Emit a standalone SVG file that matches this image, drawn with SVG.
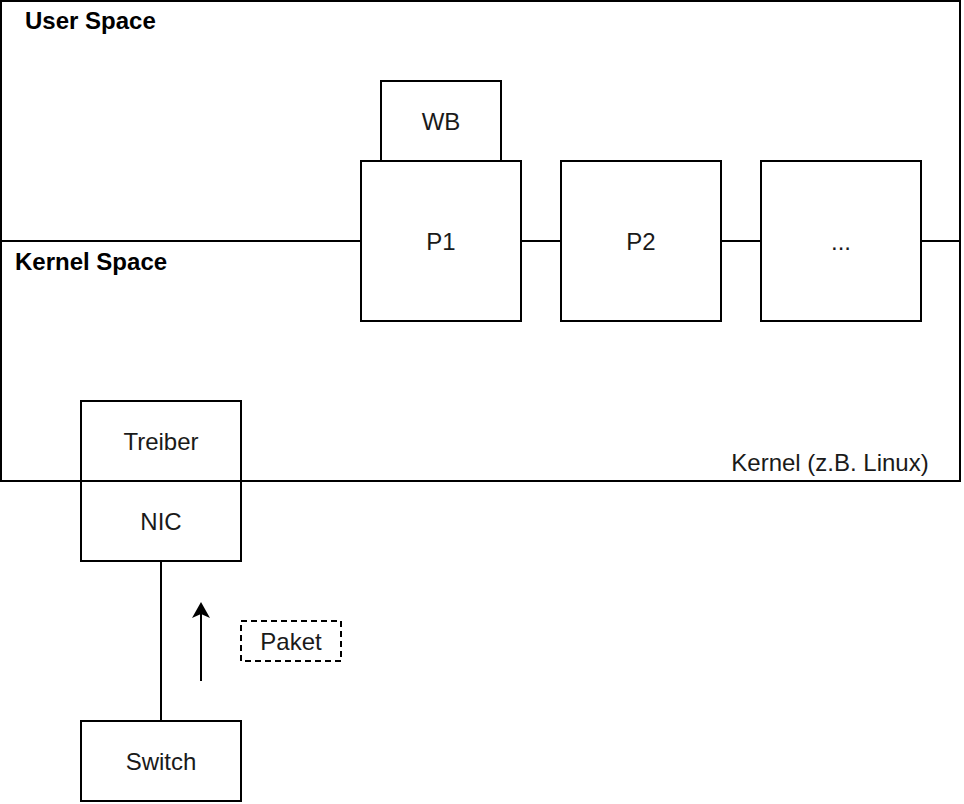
<svg xmlns="http://www.w3.org/2000/svg" width="964" height="804" viewBox="0 0 964 804">
<style>
.box{fill:#fff;stroke:#000;stroke-width:2}
.ln{fill:none;stroke:#000;stroke-width:2}
.t{font-family:"Liberation Sans",Arial,sans-serif;font-size:24px;fill:#1a1a1a;text-anchor:middle;dominant-baseline:central}
.b{font-family:"Liberation Sans",Arial,sans-serif;font-size:24px;font-weight:bold;fill:#000}
</style>
<defs>
<marker id="ah" viewBox="0 0 16 18" refX="6" refY="9" markerWidth="16" markerHeight="18" markerUnits="userSpaceOnUse" orient="auto">
<path d="M0,0 L16,9 L0,18 L4,9 Z" fill="#000"/>
</marker>
</defs>
<rect width="964" height="804" fill="#fff"/>
<g id="kernel">
<rect class="box" x="1" y="1" width="959" height="480"/>
<text class="b" x="25" y="29">User Space</text>
<text class="b" x="15" y="270">Kernel Space</text>
<text class="t" x="830" y="462">Kernel (z.B. Linux)</text>
</g>
<g id="connectors">
<line class="ln" x1="1" y1="241" x2="960" y2="241"/>
<line class="ln" x1="161" y1="561" x2="161" y2="721"/>
<line class="ln" x1="201" y1="681" x2="201" y2="612" marker-end="url(#ah)"/>
</g>
<g id="wb"><rect class="box" x="381" y="81" width="120" height="80"/><text class="t" x="441" y="121">WB</text></g>
<g id="p1"><rect class="box" x="361" y="161" width="160" height="160"/><text class="t" x="441" y="241">P1</text></g>
<g id="p2"><rect class="box" x="561" y="161" width="160" height="160"/><text class="t" x="641" y="241">P2</text></g>
<g id="pdots"><rect class="box" x="761" y="161" width="160" height="160"/><text class="t" x="841" y="241">...</text></g>
<g id="treiber"><rect class="box" x="81" y="401" width="160" height="80"/><text class="t" x="161" y="441">Treiber</text></g>
<g id="nic"><rect class="box" x="81" y="481" width="160" height="80"/><text class="t" x="161" y="521">NIC</text></g>
<g id="switch"><rect class="box" x="81" y="721" width="160" height="80"/><text class="t" x="161" y="761">Switch</text></g>
<g id="paket"><rect x="241" y="621" width="100" height="40" fill="#fff" stroke="#000" stroke-width="2" stroke-dasharray="6,4"/><text class="t" x="291" y="641">Paket</text></g>
</svg>
